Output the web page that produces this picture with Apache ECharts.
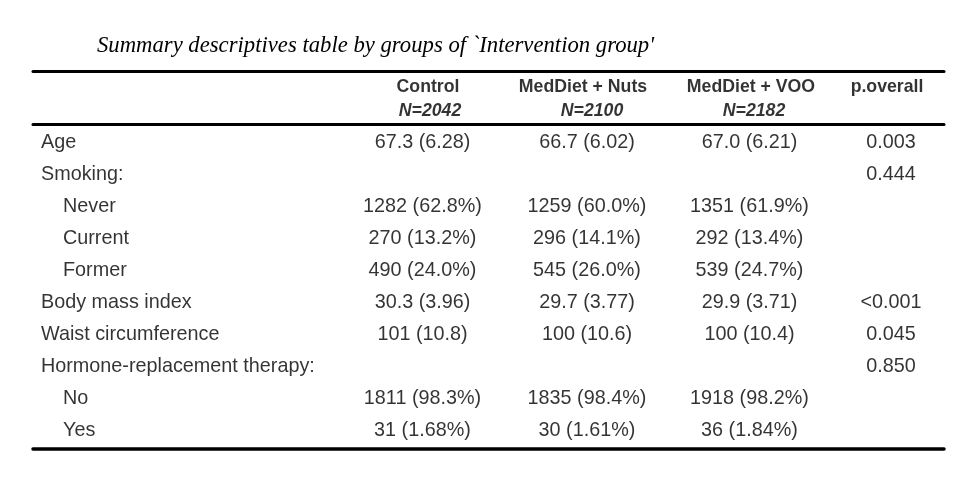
<!DOCTYPE html>
<html>
<head>
<meta charset="utf-8">
<script src="https://cdn.jsdelivr.net/npm/echarts@6/dist/echarts.min.js"></script>
<style>
html,body{margin:0;padding:0;background:#fff;}
#chart{width:977px;height:493px;}
</style>
</head>
<body>
<div id="chart"></div>
<script>
// ---------- data ----------
const titleText = "Summary descriptives table by groups of `Intervention group'";
const columnNames = ['Control', 'MedDiet + Nuts', 'MedDiet + VOO', 'p.overall'];
const groupN = ['N=2042', 'N=2100', 'N=2182', ''];
const rowLabels = ['Age', 'Smoking:', 'Never', 'Current', 'Former', 'Body mass index',
  'Waist circumference', 'Hormone-replacement therapy:', 'No', 'Yes'];
const rowIndent = [0, 0, 1, 1, 1, 0, 0, 0, 1, 1];
const controlValues = ['67.3 (6.28)', '', '1282 (62.8%)', '270 (13.2%)', '490 (24.0%)',
  '30.3 (3.96)', '101 (10.8)', '', '1811 (98.3%)', '31 (1.68%)'];
const nutsValues = ['66.7 (6.02)', '', '1259 (60.0%)', '296 (14.1%)', '545 (26.0%)',
  '29.7 (3.77)', '100 (10.6)', '', '1835 (98.4%)', '30 (1.61%)'];
const vooValues = ['67.0 (6.21)', '', '1351 (61.9%)', '292 (13.4%)', '539 (24.7%)',
  '29.9 (3.71)', '100 (10.4)', '', '1918 (98.2%)', '36 (1.84%)'];
const pOverall = ['0.003', '0.444', '', '', '', '<0.001', '0.045', '0.850', '', ''];

// ---------- layout (page pixels) ----------
const L = {
  left: 33, right: 944,
  labelX: 41, indentX: 63,
  headX: [428, 583, 751, 887],
  nX: [430, 592, 754, 887],
  valueX: [422.5, 587, 749.5, 891],
  headTop: 71, headBottom: 124, headFirst: 86.8, headStep: 23.9,
  bodyTop: 124, bodyBottom: 448.5, bodyFirst: 142.5, bodyStep: 32
};
const bodyFont = 'Liberation Sans, Arial, sans-serif';
const valueCols = [controlValues, nutsValues, vooValues, pOverall];

function textSeries(xi, yi, data, style) {
  return {
    type: 'scatter', xAxisIndex: xi, yAxisIndex: yi, silent: true,
    symbolSize: 1, itemStyle: { color: 'transparent' },
    label: Object.assign({
      show: true, position: 'inside', color: '#000', textBorderWidth: 0,
      fontFamily: bodyFont, fontSize: 19.8, formatter: '{b}'
    }, style),
    data: data
  };
}

const headData = columnNames.map((c, i) => ({ name: c, value: [L.headX[i], 0] }));
const nData = groupN.map((c, i) => ({ name: c, value: [L.nX[i], 1] })).filter(d => d.name);
const labelData = rowLabels.map((r, i) => ({
  name: r, value: [rowIndent[i] ? L.indentX : L.labelX, i]
}));
const valueData = [];
valueCols.forEach((col, ci) => {
  col.forEach((v, ri) => { if (v) valueData.push({ name: v, value: [L.valueX[ci], ri] }); });
});

const rule = (w) => ({ show: true, onZero: false, lineStyle: { color: '#000', width: w } });
const hiddenX = (grid, pos, w) => ({
  type: 'value', gridIndex: grid, min: L.left, max: L.right, position: pos,
  axisLine: rule(w), axisTick: { show: false }, axisLabel: { show: false }, splitLine: { show: false }
});

const chart = echarts.init(document.getElementById('chart'), null, { renderer: 'canvas' });
chart.setOption({
  animation: false,
  backgroundColor: '#fff',
  title: {
    text: titleText, left: 97, top: 35, padding: 0,
    textStyle: { fontFamily: 'Liberation Serif, serif', fontStyle: 'italic', fontWeight: 'normal',
      fontSize: 22.7, lineHeight: 23, color: '#000' }
  },
  grid: [
    { left: L.left, width: L.right - L.left, top: L.headTop, height: L.headBottom - L.headTop },
    { left: L.left, width: L.right - L.left, top: L.bodyTop, height: L.bodyBottom - L.bodyTop }
  ],
  xAxis: [hiddenX(0, 'top', 3), hiddenX(1, 'top', 3), hiddenX(1, 'bottom', 3.5)],
  yAxis: [
    { type: 'value', gridIndex: 0, inverse: true, show: false,
      min: (L.headTop - L.headFirst) / L.headStep, max: (L.headBottom - L.headFirst) / L.headStep },
    { type: 'value', gridIndex: 1, inverse: true, show: false,
      min: (L.bodyTop - L.bodyFirst) / L.bodyStep, max: (L.bodyBottom - L.bodyFirst) / L.bodyStep }
  ],
  series: [
    textSeries(0, 0, headData, { fontWeight: 'bold', fontSize: 17.7 }),
    textSeries(0, 0, nData, { fontWeight: 'bold', fontStyle: 'italic', fontSize: 17.7 }),
    textSeries(1, 1, labelData, { align: 'left' }),
    textSeries(1, 1, valueData, {})
  ]
});
</script>
</body>
</html>
